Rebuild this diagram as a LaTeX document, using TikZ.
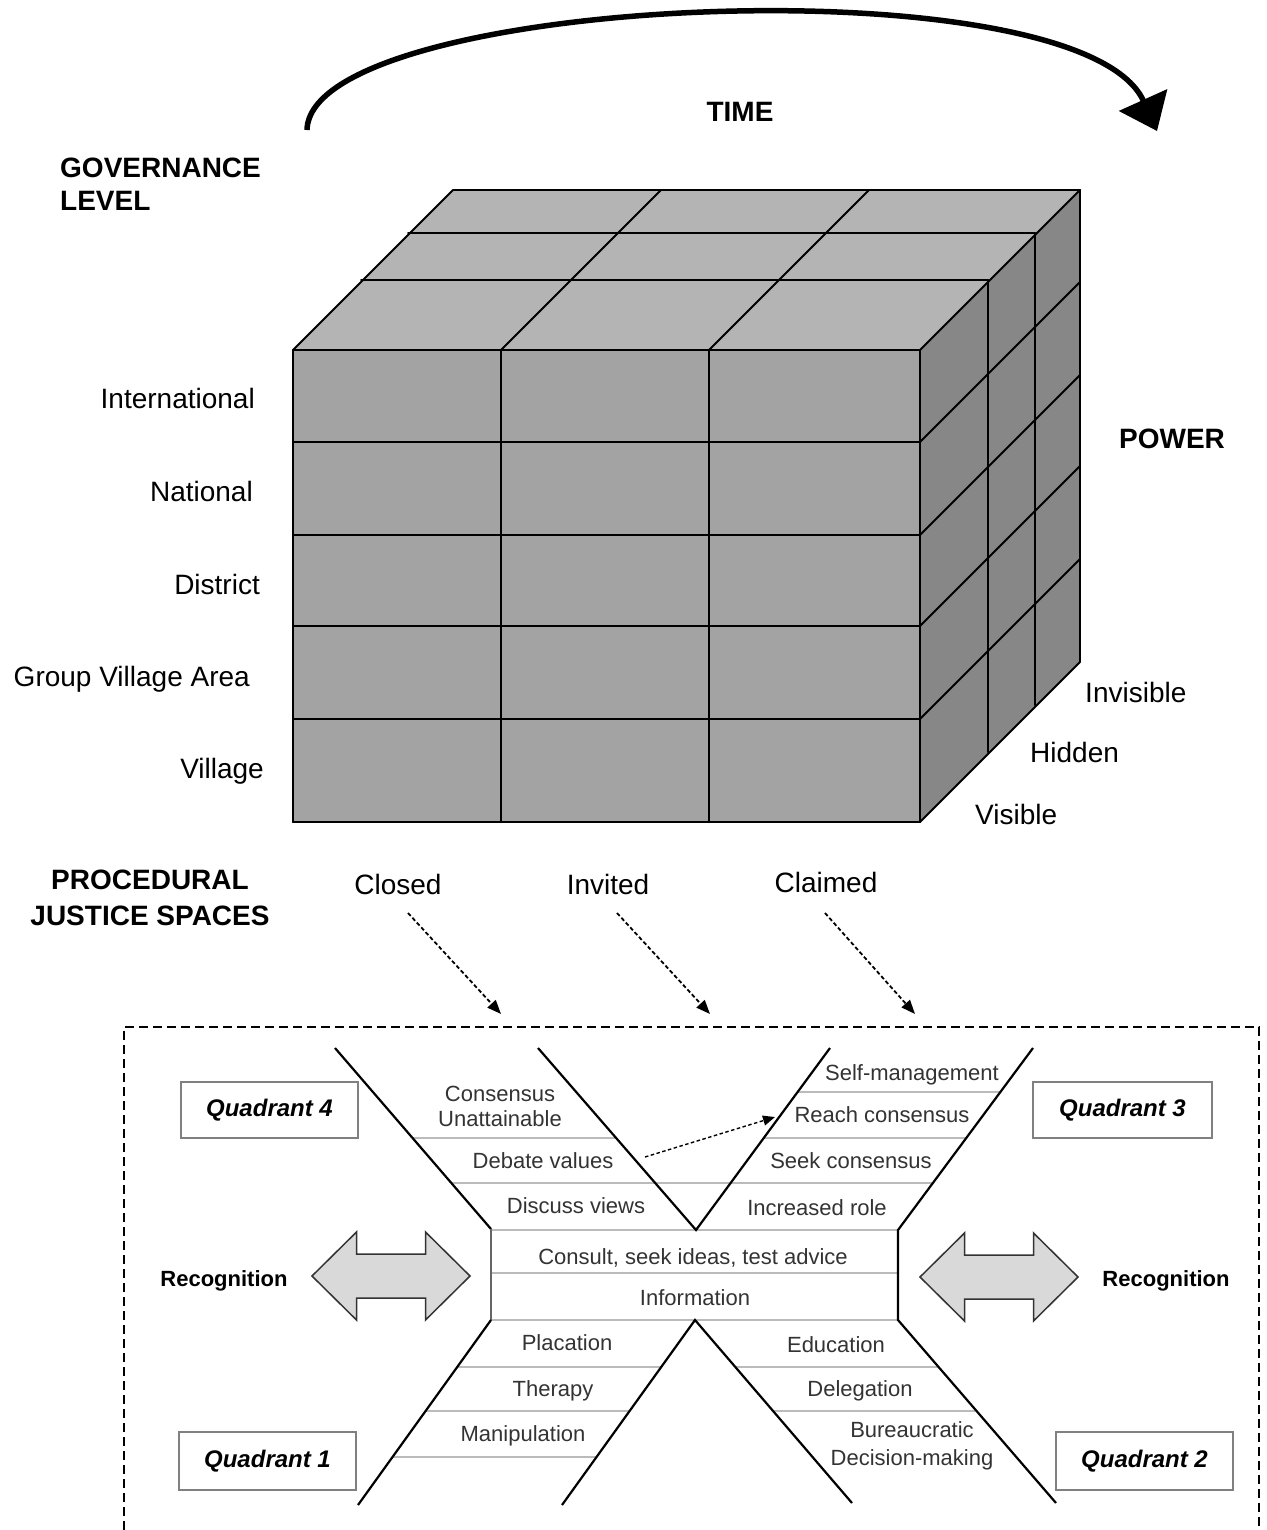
\documentclass[tikz,border=0pt]{standalone}
\usepackage{fontspec}
\setmainfont{Liberation Sans}
\usetikzlibrary{arrows.meta}
\definecolor{topc}{HTML}{B4B4B4}
\definecolor{frontc}{HTML}{A3A3A3}
\definecolor{sidec}{HTML}{878787}
\definecolor{bandc}{HTML}{BBBBBB}
\definecolor{txtc}{HTML}{333333}
\begin{document}
\begin{tikzpicture}[x=1pt,y=-1pt,
  lbl/.style={font=\fontsize{28}{32}\selectfont, inner sep=0pt},
  hdr/.style={font=\fontsize{28}{33}\selectfont\bfseries, inner sep=0pt},
  cell/.style={draw=black, line width=2pt, line join=round, line cap=round},
  bandline/.style={draw=bandc, line width=1.8pt},
  armline/.style={draw=black, line width=2.2pt, line join=miter},
  btxt/.style={font=\fontsize{22}{25}\selectfont, inner sep=0pt, text=txtc, align=center},
  quadbox/.style={draw=black!50, line width=1.5pt, fill=white, minimum width=177pt, minimum height=56pt, inner sep=0pt, font=\fontsize{24}{28}\selectfont\bfseries\itshape},
  recog/.style={font=\fontsize{22}{26}\selectfont\bfseries, inner sep=0pt},
  dblstyle/.style={draw=black!80, fill=black!15, line width=1.5pt, line join=miter},
  dasharrow/.style={dash pattern=on 4pt off 2.5pt, line width=1.8pt, -{Triangle[length=14pt,width=11pt]}},
  dbl/.pic={\path[dblstyle] (-79,0) -- (-34.5,-44) -- (-34.5,-22) -- (34.5,-22) -- (34.5,-44) -- (79,0) -- (34.5,44) -- (34.5,22) -- (-34.5,22) -- (-34.5,44) -- cycle;}
]
\fill[white] (0,0) rectangle (1266,1530);
\useasboundingbox (0,0) rectangle (1266,1530);

% ---------- TIME arrow ----------
\coordinate (t0) at (307,130);
\coordinate (t1) at (1157,131);
\draw[line width=5.5pt, -{Triangle[length=34pt,width=52pt]}] (t0) .. controls (310,-5) and (1080,-40) .. (t1);
\node[hdr, anchor=base] (time) at (740,122) {TIME};

% ---------- cube ----------
\fill[topc] (293,350) -- (920,350) -- (1080,190) -- (453,190) -- cycle;
\fill[frontc] (293,350) rectangle (920,822);
\fill[sidec] (920,350) -- (1080,190) -- (1080,662) -- (920,822) -- cycle;
\foreach \x in {293,501,709,920} \draw[cell] (\x,350) -- (\x,822);
\foreach \y in {350,442,535,626,719,822} \draw[cell] (293,\y) -- (920,\y);
\foreach \x in {293,501,709,920} \draw[cell] (\x,350) -- ++(160,-160);
\draw[cell] (361,280) -- (988,280);
\draw[cell] (408,233) -- (1035,233);
\draw[cell] (453,190) -- (1080,190);
\draw[cell] (988,280) -- (988,752);
\draw[cell] (1035,233) -- (1035,705);
\draw[cell] (1080,190) -- (1080,662);
\foreach \y in {442,535,626,719,822} \draw[cell] (920,\y) -- ++(160,-160);

% ---------- cube labels ----------
\node[hdr, align=left, anchor=west] (gov) at (60,184) {GOVERNANCE\\LEVEL};
\node[lbl, anchor=base east] (intl) at (255,408) {International};
\node[lbl, anchor=base east] (natl) at (253,501) {National};
\node[lbl, anchor=base east] (dist) at (260,594) {District};
\node[lbl, anchor=base east] (gva) at (250,686) {Group Village Area};
\node[lbl, anchor=base east] (vill) at (264,778) {Village};
\node[hdr, anchor=base] (power) at (1172,448) {POWER};
\node[lbl, anchor=base west] (invis) at (1085,702) {Invisible};
\node[lbl, anchor=base west] (hidden) at (1030,762) {Hidden};
\node[lbl, anchor=base west] (visible) at (975,824) {Visible};
\node[font=\fontsize{28}{36}\selectfont\bfseries, inner sep=0pt, align=center] (pjs) at (150,898) {PROCEDURAL\\JUSTICE SPACES};
\node[lbl, anchor=base] (closed) at (398,894) {Closed};
\node[lbl, anchor=base] (invited) at (608,894) {Invited};
\node[lbl, anchor=base] (claimed) at (826,892) {Claimed};

% ---------- dashed arrows ----------
\coordinate (a1s) at (408,913); \coordinate (a1e) at (501,1014);
\coordinate (a2s) at (617,913); \coordinate (a2e) at (710,1014);
\coordinate (a3s) at (825,913); \coordinate (a3e) at (915,1014);
\draw[dasharrow] (a1s) -- (a1e);
\draw[dasharrow] (a2s) -- (a2e);
\draw[dasharrow] (a3s) -- (a3e);

% ---------- dashed frame ----------
\draw[dash pattern=on 9pt off 5pt, line width=2pt] (124,1530) -- (124,1027) -- (1259,1027) -- (1259,1530);

% ---------- ladder bands ----------
\draw[bandline] (797.6,1092) -- (1000.4,1092);
\draw[bandline] (412.6,1138) -- (616.1,1138);
\draw[bandline] (763.8,1138) -- (966.2,1138);
\draw[bandline] (451.4,1183) -- (932.8,1183);
\draw[bandline] (491,1230) -- (898,1230);
\draw[bandline] (491,1273) -- (898,1273);
\draw[bandline] (491,1320) -- (898,1320);
\draw[bandline] (457.2,1367) -- (661.2,1367);
\draw[bandline] (735.3,1367) -- (938.6,1367);
\draw[bandline] (425.6,1411) -- (629.6,1411);
\draw[bandline] (773.1,1411) -- (976.5,1411);
\draw[bandline] (392.5,1457) -- (596.5,1457);

% ---------- arms ----------
\draw[armline] (335,1048) -- (491,1229);
\draw[draw=black!60, line width=2.2pt] (491,1229) -- (491,1320);
\draw[armline] (491,1320) -- (358,1505);
\draw[armline] (538,1048) -- (696,1230) -- (830,1048);
\draw[armline] (1033,1048) -- (898,1230) -- (898,1320) -- (1056,1503);
\draw[armline] (562,1505) -- (695,1320) -- (852,1503);

% ---------- ladder texts ----------
\node[btxt] (cu) at (500,1106) {Consensus\\Unattainable};
\node[btxt, anchor=base] (dv) at (543,1168) {Debate values};
\node[btxt, anchor=base] (dview) at (576,1213) {Discuss views};
\node[btxt, anchor=base] (sm) at (912,1080) {Self-management};
\node[btxt, anchor=base] (rc) at (882,1122) {Reach consensus};
\node[btxt, anchor=base] (sc) at (851,1168) {Seek consensus};
\node[btxt, anchor=base] (ir) at (817,1215) {Increased role};
\node[btxt, anchor=base] (cons) at (693,1264) {Consult, seek ideas, test advice};
\node[btxt, anchor=base] (info) at (695,1305) {Information};
\node[btxt, anchor=base] (plac) at (567,1350) {Placation};
\node[btxt, anchor=base] (ther) at (553,1396) {Therapy};
\node[btxt, anchor=base] (manip) at (523,1441) {Manipulation};
\node[btxt, anchor=base] (edu) at (836,1352) {Education};
\node[btxt, anchor=base] (deleg) at (860,1396) {Delegation};
\node[btxt, font=\fontsize{22}{28}\selectfont] (bdm) at (912,1446) {Bureaucratic\\Decision-making};

% middle dashed arrow
\coordinate (mds) at (645,1157);
\coordinate (mde) at (775,1117);
\draw[dash pattern=on 3.5pt off 2.5pt, line width=1.4pt, -{Triangle[length=12pt,width=10pt]}] (mds) -- (mde);

% ---------- quadrants ----------
\node[quadbox] (q4) at (269.5,1110) {Quadrant 4};
\node[quadbox, minimum width=179pt] (q3) at (1122.5,1110) {Quadrant 3};
\node[quadbox, minimum height=58pt] (q1) at (267.5,1461) {Quadrant 1};
\node[quadbox, minimum height=58pt] (q2) at (1144.5,1461) {Quadrant 2};

% ---------- recognition ----------
\pic at (391,1276) {dbl};
\pic at (999,1277) {dbl};
\node[recog, anchor=base] (recl) at (224,1286) {Recognition};
\node[recog, anchor=base] (recr) at (1166,1286) {Recognition};
\end{tikzpicture}
\end{document}
